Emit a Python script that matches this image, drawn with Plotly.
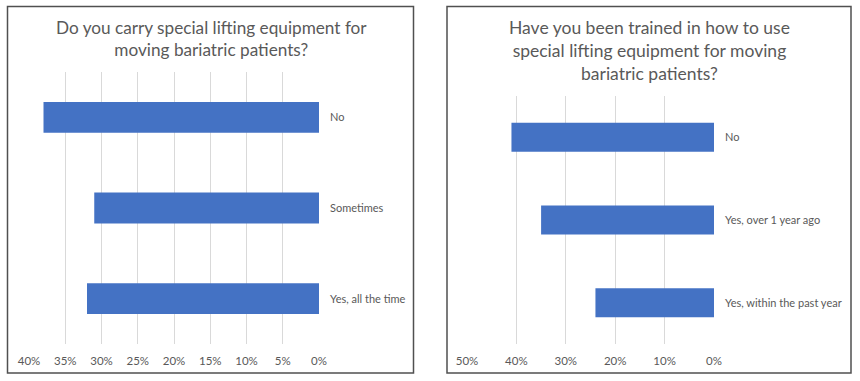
import plotly.graph_objects as go

W, H = 860, 381

# Data
left_title = "Do you carry special lifting equipment for<br>moving bariatric patients?"
left_categories = ["No", "Sometimes", "Yes, all the time"]
left_values = [0.38, 0.31, 0.32]

right_title = "Have you been trained in how to use<br>special lifting equipment for moving<br>bariatric patients?"
right_categories = ["No", "Yes, over 1 year ago", "Yes, within the past year"]
right_values = [0.41, 0.35, 0.24]

BAR = "#4472C4"
TXT = "#595959"
GRID = "#D9D9D9"
FONT = "Lato"

def px(x):
    return x / W

def py(y):
    return 1 - y / H

fig = go.Figure()
fig.add_trace(go.Bar(x=left_values, y=left_categories, orientation="h",
                     marker=dict(color=BAR, line=dict(width=0)), width=0.34,
                     xaxis="x", yaxis="y", showlegend=False, hoverinfo="skip"))
fig.add_trace(go.Bar(x=right_values, y=right_categories, orientation="h",
                     marker=dict(color=BAR, line=dict(width=0)), width=0.35,
                     xaxis="x2", yaxis="y2", showlegend=False, hoverinfo="skip"))

xcommon = dict(showgrid=True, gridcolor=GRID, gridwidth=1, zeroline=False,
               showline=False, ticks="", tickformat=".0%", automargin=False,
               tickfont=dict(family=FONT, size=11.5, color=TXT),
               ticklabelstandoff=8, fixedrange=True)
ycommon = dict(showgrid=False, zeroline=False, showline=False, ticks="",
               side="right", autorange="reversed", automargin=False,
               tickfont=dict(family=FONT, size=11, color=TXT),
               ticklabelstandoff=10, fixedrange=True)

fig.update_layout(
    width=W, height=H,
    margin=dict(l=0, r=0, t=0, b=0),
    paper_bgcolor="white", plot_bgcolor="white",
    font=dict(family=FONT, color=TXT),
    xaxis=dict(domain=[px(29), px(319)], range=[0.40, 0], dtick=0.05, anchor="y", **xcommon),
    yaxis=dict(domain=[py(344), py(72)], anchor="x", **ycommon),
    xaxis2=dict(domain=[px(467), px(714)], range=[0.50, 0], dtick=0.10, anchor="y2", **xcommon),
    yaxis2=dict(domain=[py(344), py(96)], anchor="x2", **ycommon),
    shapes=[
        dict(type="rect", xref="paper", yref="paper", x0=px(7.5), x1=px(413.5),
             y0=py(373), y1=py(6.5), line=dict(color="#505050", width=1.5)),
        dict(type="rect", xref="paper", yref="paper", x0=px(447), x1=px(851),
             y0=py(373), y1=py(6.5), line=dict(color="#505050", width=1.5)),
    ],
    annotations=[
        dict(text=left_title, xref="paper", yref="paper", x=px(211), y=py(15),
             xanchor="center", yanchor="top", showarrow=False,
             font=dict(family=FONT, size=17.2, color=TXT)),
        dict(text=right_title, xref="paper", yref="paper", x=px(649), y=py(15),
             xanchor="center", yanchor="top", showarrow=False,
             font=dict(family=FONT, size=17.5, color=TXT)),
    ],
    bargap=0.65,
)

fig.write_html("out.html", config={"displayModeBar": False},
               post_script="document.body.style.margin='0';")
